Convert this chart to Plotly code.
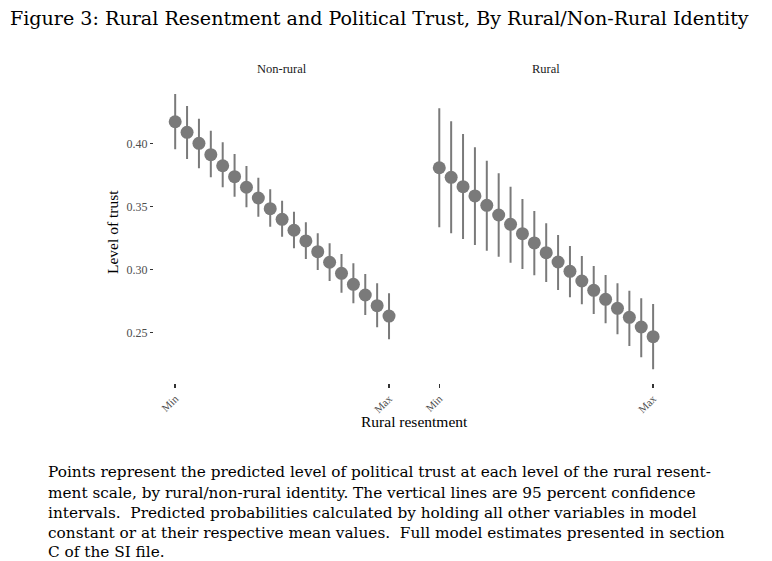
import plotly.graph_objects as go

# ---------------- data ----------------
levels = [0, 1, 2, 3, 4, 5, 6, 7, 8, 9, 10, 11, 12, 13, 14, 15, 16, 17, 18]
tick_levels = [0, 18]
tick_text = ["Min", "Max"]

nonrural_est = [0.4171, 0.4087, 0.4000, 0.3910, 0.3822, 0.3735, 0.3651, 0.3566, 0.3481, 0.3397,
                0.3310, 0.3225, 0.3140, 0.3056, 0.2968, 0.2881, 0.2796, 0.2711, 0.2629]
nonrural_low = [0.3952, 0.3875, 0.3802, 0.3730, 0.3651, 0.3576, 0.3492, 0.3417, 0.3338, 0.3259,
                0.3167, 0.3082, 0.2994, 0.2907, 0.2814, 0.2730, 0.2637, 0.2540, 0.2444]
nonrural_high = [0.4391, 0.4296, 0.4195, 0.4100, 0.4008, 0.3915, 0.3820, 0.3727, 0.3635, 0.3544,
                 0.3457, 0.3373, 0.3286, 0.3206, 0.3121, 0.3048, 0.2963, 0.2889, 0.2810]

rural_est = [0.3806, 0.3730, 0.3656, 0.3582, 0.3508, 0.3431, 0.3357, 0.3283, 0.3209, 0.3132,
             0.3058, 0.2984, 0.2907, 0.2833, 0.2762, 0.2690, 0.2619, 0.2542, 0.2465]
rural_low = [0.3333, 0.3286, 0.3240, 0.3193, 0.3148, 0.3100, 0.3052, 0.3002, 0.2952, 0.2899,
             0.2836, 0.2778, 0.2722, 0.2645, 0.2571, 0.2484, 0.2391, 0.2302, 0.2206]
rural_high = [0.4278, 0.4175, 0.4074, 0.3968, 0.3862, 0.3762, 0.3656, 0.3558, 0.3463, 0.3365,
              0.3272, 0.3185, 0.3106, 0.3026, 0.2955, 0.2889, 0.2830, 0.2770, 0.2725]

y_ticks = [0.25, 0.30, 0.35, 0.40]
y_tick_text = ["0.25", "0.30", "0.35", "0.40"]

panel_names = ["Non-rural", "Rural"]

title_text = "Figure 3: Rural Resentment and Political Trust, By Rural/Non-Rural Identity"
caption_lines = [
    "Points represent the predicted level of political trust at each level of the rural resent-",
    "ment scale, by rural/non-rural identity. The vertical lines are 95 percent confidence",
    "intervals.  Predicted probabilities calculated by holding all other variables in model",
    "constant or at their respective mean values.  Full model estimates presented in section",
    "C of the SI file.",
]

# ---------------- layout helpers ----------------
W, H = 772, 561


def px(x):
    return x / W


def py(y):
    return 1 - y / H


GREY = "#7a7a7a"
SERIF = "Liberation Serif"
WIDE_SERIF = "DejaVu Serif"

fig = go.Figure()

panels = [
    (nonrural_est, nonrural_low, nonrural_high, "x", "y"),
    (rural_est, rural_low, rural_high, "x2", "y2"),
]
for est, lo, hi, xa, ya in panels:
    fig.add_trace(go.Scatter(
        x=levels, y=est, mode="markers",
        marker=dict(size=13, color=GREY, line=dict(width=0)),
        error_y=dict(type="data", symmetric=False,
                     array=[h - e for h, e in zip(hi, est)],
                     arrayminus=[e - l for e, l in zip(est, lo)],
                     width=0, thickness=2, color=GREY),
        xaxis=xa, yaxis=ya, showlegend=False, hoverinfo="skip",
    ))

x_range = [-1.8, 19.8]
y_range = [0.20976, 0.45024]
y_dom = [py(383), py(80)]

xaxis_common = dict(
    range=x_range, tickmode="array", tickvals=tick_levels, ticktext=tick_text,
    tickangle=-45, ticks="outside", ticklen=4, tickwidth=1.5, tickcolor="#333333",
    tickfont=dict(family=SERIF, size=11, color="#4d4d4d"),
    showgrid=False, zeroline=False, showline=False, fixedrange=True,
)

fig.update_layout(
    width=W, height=H,
    margin=dict(l=0, r=0, t=0, b=0),
    paper_bgcolor="white", plot_bgcolor="white",
    hovermode=False, dragmode=False,
    xaxis=dict(domain=[px(153.8), px(410.4)], anchor="y", **xaxis_common),
    xaxis2=dict(domain=[px(417.9), px(674.5)], anchor="y2", **xaxis_common),
    yaxis=dict(domain=y_dom, range=y_range, anchor="x",
               tickmode="array", tickvals=y_ticks, ticktext=y_tick_text,
               ticks="outside", ticklen=3, tickwidth=1.5, tickcolor="#333333",
               tickfont=dict(family=SERIF, size=12, color="#4d4d4d"),
               showgrid=False, zeroline=False, showline=False, fixedrange=True),
    yaxis2=dict(domain=y_dom, range=y_range, anchor="x2", showticklabels=False,
                ticks="", showgrid=False, zeroline=False, showline=False, fixedrange=True),
)

ann = []
ann.append(dict(text=title_text, x=px(9), y=py(18), xref="paper", yref="paper",
                xanchor="left", yanchor="middle", showarrow=False, borderpad=0,
                font=dict(family=WIDE_SERIF, size=19.1, color="black")))
ann.append(dict(text=panel_names[0], x=px(282), y=py(69), xref="paper", yref="paper",
                xanchor="center", yanchor="middle", showarrow=False,
                font=dict(family=SERIF, size=12.5, color="#1a1a1a")))
ann.append(dict(text=panel_names[1], x=px(546), y=py(69), xref="paper", yref="paper",
                xanchor="center", yanchor="middle", showarrow=False,
                font=dict(family=SERIF, size=12.5, color="#1a1a1a")))
ann.append(dict(text="Level of trust", x=px(112), y=py(232), xref="paper", yref="paper",
                xanchor="center", yanchor="middle", showarrow=False, textangle=-90,
                font=dict(family=SERIF, size=15.5, color="black")))
ann.append(dict(text="Rural resentment", x=px(414), y=py(421), xref="paper", yref="paper",
                xanchor="center", yanchor="middle", showarrow=False,
                font=dict(family=SERIF, size=15.5, color="black")))
line_y = [472, 492.5, 513, 533, 552]
for txt, yy in zip(caption_lines, line_y):
    ann.append(dict(text=txt, x=px(46), y=py(yy), xref="paper", yref="paper",
                    xanchor="left", yanchor="middle", showarrow=False,
                    font=dict(family=WIDE_SERIF, size=15.3, color="black")))
fig.update_layout(annotations=ann)

# remove the default page margin so the figure fills the window exactly
fig.write_html("out.html",
               config={"displayModeBar": False, "staticPlot": True},
               post_script="document.body.style.margin='0px';document.body.style.overflow='hidden';")
